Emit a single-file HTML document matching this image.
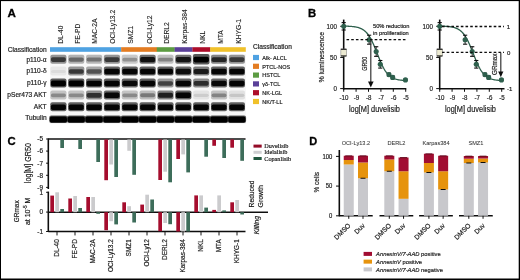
<!DOCTYPE html>
<html><head><meta charset="utf-8"><style>
html,body{margin:0;padding:0;background:#fff;}
body{width:520px;height:280px;overflow:hidden;font-family:"Liberation Sans", sans-serif;}
svg{display:block;}
</style></head><body>
<svg width="520" height="280" viewBox="0 0 520 280">
<defs>
<filter id="bl" x="-10%" y="-30%" width="120%" height="160%"><feGaussianBlur stdDeviation="0.6"/></filter>
<filter id="soft" x="0" y="0" width="100%" height="100%"><feGaussianBlur stdDeviation="0.35"/></filter>
</defs>
<rect x="0" y="0" width="520" height="280" fill="#fff"/>
<g filter="url(#soft)">
<text x="7.60" y="17.40" font-size="11.6" text-anchor="start" font-weight="bold" font-style="normal" fill="#000" font-family="'Liberation Sans', sans-serif" stroke="#000" stroke-width="0.30">A</text>
<text x="62.90" y="43.80" font-size="6.7" text-anchor="start" font-weight="normal" font-style="normal" fill="#1a1a1a" font-family="'Liberation Sans', sans-serif" stroke="#1a1a1a" stroke-width="0.10" transform="rotate(-90 62.90 43.80)">DL-40</text>
<text x="80.20" y="43.80" font-size="6.7" text-anchor="start" font-weight="normal" font-style="normal" fill="#1a1a1a" font-family="'Liberation Sans', sans-serif" stroke="#1a1a1a" stroke-width="0.10" transform="rotate(-90 80.20 43.80)">FE-PD</text>
<text x="97.50" y="43.80" font-size="6.7" text-anchor="start" font-weight="normal" font-style="normal" fill="#1a1a1a" font-family="'Liberation Sans', sans-serif" stroke="#1a1a1a" stroke-width="0.10" transform="rotate(-90 97.50 43.80)">MAC-2A</text>
<text x="114.80" y="43.80" font-size="6.7" text-anchor="start" font-weight="normal" font-style="normal" fill="#1a1a1a" font-family="'Liberation Sans', sans-serif" stroke="#1a1a1a" stroke-width="0.10" transform="rotate(-90 114.80 43.80)">OCI-Ly13.2</text>
<text x="133.10" y="43.80" font-size="6.7" text-anchor="start" font-weight="normal" font-style="normal" fill="#1a1a1a" font-family="'Liberation Sans', sans-serif" stroke="#1a1a1a" stroke-width="0.10" transform="rotate(-90 133.10 43.80)">SMZ1</text>
<text x="152.40" y="43.80" font-size="6.7" text-anchor="start" font-weight="normal" font-style="normal" fill="#1a1a1a" font-family="'Liberation Sans', sans-serif" stroke="#1a1a1a" stroke-width="0.10" transform="rotate(-90 152.40 43.80)">OCI-Ly12</text>
<text x="169.30" y="43.80" font-size="6.7" text-anchor="start" font-weight="normal" font-style="normal" fill="#1a1a1a" font-family="'Liberation Sans', sans-serif" stroke="#1a1a1a" stroke-width="0.10" transform="rotate(-90 169.30 43.80)">DERL2</text>
<text x="186.90" y="43.80" font-size="6.7" text-anchor="start" font-weight="normal" font-style="normal" fill="#1a1a1a" font-family="'Liberation Sans', sans-serif" stroke="#1a1a1a" stroke-width="0.10" transform="rotate(-90 186.90 43.80)">Karpas-384</text>
<text x="205.30" y="43.80" font-size="6.7" text-anchor="start" font-weight="normal" font-style="normal" fill="#1a1a1a" font-family="'Liberation Sans', sans-serif" stroke="#1a1a1a" stroke-width="0.10" transform="rotate(-90 205.30 43.80)">NKL</text>
<text x="223.50" y="43.80" font-size="6.7" text-anchor="start" font-weight="normal" font-style="normal" fill="#1a1a1a" font-family="'Liberation Sans', sans-serif" stroke="#1a1a1a" stroke-width="0.10" transform="rotate(-90 223.50 43.80)">MTA</text>
<text x="241.20" y="43.80" font-size="6.7" text-anchor="start" font-weight="normal" font-style="normal" fill="#1a1a1a" font-family="'Liberation Sans', sans-serif" stroke="#1a1a1a" stroke-width="0.10" transform="rotate(-90 241.20 43.80)">KHYG-1</text>
<rect x="50.00" y="47.20" width="71.40" height="4.60" fill="#4fa2e2"/>
<rect x="121.20" y="47.20" width="35.80" height="4.60" fill="#e37c22"/>
<rect x="156.80" y="47.20" width="18.00" height="4.60" fill="#5c9c42"/>
<rect x="174.60" y="47.20" width="18.00" height="4.60" fill="#5a3f98"/>
<rect x="192.40" y="47.20" width="18.00" height="4.60" fill="#ad0f2c"/>
<rect x="210.20" y="47.20" width="35.60" height="4.60" fill="#f0c12c"/>
<text x="46.60" y="51.70" font-size="6.6" text-anchor="end" font-weight="normal" font-style="normal" fill="#1a1a1a" font-family="'Liberation Sans', sans-serif" stroke="#1a1a1a" stroke-width="0.18">Classification</text>
<text x="46.60" y="61.50" font-size="6.6" text-anchor="end" font-weight="normal" font-style="normal" fill="#1a1a1a" font-family="'Liberation Sans', sans-serif" stroke="#1a1a1a" stroke-width="0.18">p110-&#945;</text>
<text x="46.60" y="73.40" font-size="6.6" text-anchor="end" font-weight="normal" font-style="normal" fill="#1a1a1a" font-family="'Liberation Sans', sans-serif" stroke="#1a1a1a" stroke-width="0.18">p110-&#948;</text>
<text x="46.60" y="85.30" font-size="6.6" text-anchor="end" font-weight="normal" font-style="normal" fill="#1a1a1a" font-family="'Liberation Sans', sans-serif" stroke="#1a1a1a" stroke-width="0.18">p110-&#947;</text>
<text x="46.60" y="97.10" font-size="6.6" text-anchor="end" font-weight="normal" font-style="normal" fill="#1a1a1a" font-family="'Liberation Sans', sans-serif" stroke="#1a1a1a" stroke-width="0.18">pSer473 AKT</text>
<text x="46.60" y="108.60" font-size="6.6" text-anchor="end" font-weight="normal" font-style="normal" fill="#1a1a1a" font-family="'Liberation Sans', sans-serif" stroke="#1a1a1a" stroke-width="0.18">AKT</text>
<text x="46.60" y="120.40" font-size="6.6" text-anchor="end" font-weight="normal" font-style="normal" fill="#1a1a1a" font-family="'Liberation Sans', sans-serif" stroke="#1a1a1a" stroke-width="0.18">Tubulin</text>
<rect x="50" y="54" width="196" height="70" fill="#000" fill-opacity="0.03" filter="url(#bl)"/>
<g filter="url(#bl)">
<rect x="50.30" y="54.70" width="16.20" height="9.00" rx="2.0" fill="#000" fill-opacity="0.40"/>
<rect x="50.90" y="57.29" width="15.00" height="4.61" rx="1.8" fill="#000" fill-opacity="0.62"/>
<rect x="68.15" y="54.70" width="16.20" height="9.00" rx="2.0" fill="#000" fill-opacity="0.28"/>
<rect x="68.75" y="57.55" width="15.00" height="4.09" rx="1.8" fill="#000" fill-opacity="0.42"/>
<rect x="86.00" y="54.70" width="16.20" height="9.00" rx="2.0" fill="#000" fill-opacity="0.26"/>
<rect x="86.60" y="57.61" width="15.00" height="3.99" rx="1.8" fill="#000" fill-opacity="0.38"/>
<rect x="103.85" y="54.70" width="16.20" height="9.00" rx="2.0" fill="#000" fill-opacity="0.40"/>
<rect x="104.45" y="57.29" width="15.00" height="4.61" rx="1.8" fill="#000" fill-opacity="0.62"/>
<rect x="121.70" y="54.70" width="16.20" height="9.00" rx="2.0" fill="#000" fill-opacity="0.19"/>
<rect x="122.30" y="57.74" width="15.00" height="3.73" rx="1.8" fill="#000" fill-opacity="0.28"/>
<rect x="139.55" y="54.70" width="16.20" height="9.00" rx="2.0" fill="#000" fill-opacity="0.55"/>
<rect x="140.15" y="57.00" width="15.00" height="5.21" rx="1.8" fill="#000" fill-opacity="0.85"/>
<rect x="157.40" y="54.70" width="16.20" height="9.00" rx="2.0" fill="#000" fill-opacity="0.22"/>
<rect x="158.00" y="57.68" width="15.00" height="3.83" rx="1.8" fill="#000" fill-opacity="0.32"/>
<rect x="175.25" y="54.70" width="16.20" height="9.00" rx="2.0" fill="#000" fill-opacity="0.53"/>
<rect x="175.85" y="57.03" width="15.00" height="5.13" rx="1.8" fill="#000" fill-opacity="0.82"/>
<rect x="192.90" y="53.90" width="16.60" height="10.60" rx="2.0" fill="#000" fill-opacity="0.64"/>
<rect x="193.50" y="56.80" width="15.40" height="5.60" rx="1.8" fill="#000" fill-opacity="1.00"/>
<rect x="210.95" y="54.70" width="16.20" height="9.00" rx="2.0" fill="#000" fill-opacity="0.47"/>
<rect x="211.55" y="57.16" width="15.00" height="4.87" rx="1.8" fill="#000" fill-opacity="0.72"/>
<rect x="228.80" y="54.70" width="16.20" height="9.00" rx="2.0" fill="#000" fill-opacity="0.40"/>
<rect x="229.40" y="57.29" width="15.00" height="4.61" rx="1.8" fill="#000" fill-opacity="0.62"/>
<rect x="50.30" y="66.60" width="16.20" height="9.00" rx="2.0" fill="#000" fill-opacity="0.06"/>
<rect x="50.90" y="69.92" width="15.00" height="3.16" rx="1.8" fill="#000" fill-opacity="0.06"/>
<rect x="68.15" y="66.60" width="16.20" height="9.00" rx="2.0" fill="#000" fill-opacity="0.40"/>
<rect x="68.75" y="69.19" width="15.00" height="4.61" rx="1.8" fill="#000" fill-opacity="0.62"/>
<rect x="86.00" y="66.60" width="16.20" height="9.00" rx="2.0" fill="#000" fill-opacity="0.33"/>
<rect x="86.60" y="69.35" width="15.00" height="4.30" rx="1.8" fill="#000" fill-opacity="0.50"/>
<rect x="103.85" y="66.60" width="16.20" height="9.00" rx="2.0" fill="#000" fill-opacity="0.61"/>
<rect x="104.45" y="68.77" width="15.00" height="5.47" rx="1.8" fill="#000" fill-opacity="0.95"/>
<rect x="121.70" y="66.60" width="16.20" height="9.00" rx="2.0" fill="#000" fill-opacity="0.61"/>
<rect x="122.30" y="68.77" width="15.00" height="5.47" rx="1.8" fill="#000" fill-opacity="0.95"/>
<rect x="139.55" y="66.60" width="16.20" height="9.00" rx="2.0" fill="#000" fill-opacity="0.61"/>
<rect x="140.15" y="68.77" width="15.00" height="5.47" rx="1.8" fill="#000" fill-opacity="0.95"/>
<rect x="157.40" y="66.60" width="16.20" height="9.00" rx="2.0" fill="#000" fill-opacity="0.61"/>
<rect x="158.00" y="68.77" width="15.00" height="5.47" rx="1.8" fill="#000" fill-opacity="0.95"/>
<rect x="175.25" y="66.60" width="16.20" height="9.00" rx="2.0" fill="#000" fill-opacity="0.57"/>
<rect x="175.85" y="68.86" width="15.00" height="5.29" rx="1.8" fill="#000" fill-opacity="0.88"/>
<rect x="193.10" y="66.60" width="16.20" height="9.00" rx="2.0" fill="#000" fill-opacity="0.50"/>
<rect x="193.70" y="68.99" width="15.00" height="5.03" rx="1.8" fill="#000" fill-opacity="0.78"/>
<rect x="210.95" y="66.60" width="16.20" height="9.00" rx="2.0" fill="#000" fill-opacity="0.61"/>
<rect x="211.55" y="68.77" width="15.00" height="5.47" rx="1.8" fill="#000" fill-opacity="0.95"/>
<rect x="228.80" y="66.60" width="16.20" height="9.00" rx="2.0" fill="#000" fill-opacity="0.61"/>
<rect x="229.40" y="68.77" width="15.00" height="5.47" rx="1.8" fill="#000" fill-opacity="0.95"/>
<rect x="50.30" y="78.50" width="16.20" height="9.00" rx="2.0" fill="#000" fill-opacity="0.64"/>
<rect x="50.90" y="80.60" width="15.00" height="5.60" rx="1.8" fill="#000" fill-opacity="1.00"/>
<rect x="68.15" y="78.50" width="16.20" height="9.00" rx="2.0" fill="#000" fill-opacity="0.64"/>
<rect x="68.75" y="80.60" width="15.00" height="5.60" rx="1.8" fill="#000" fill-opacity="1.00"/>
<rect x="86.00" y="78.50" width="16.20" height="9.00" rx="2.0" fill="#000" fill-opacity="0.62"/>
<rect x="86.60" y="80.64" width="15.00" height="5.52" rx="1.8" fill="#000" fill-opacity="0.97"/>
<rect x="103.85" y="78.50" width="16.20" height="9.00" rx="2.0" fill="#000" fill-opacity="0.62"/>
<rect x="104.45" y="80.65" width="15.00" height="5.50" rx="1.8" fill="#000" fill-opacity="0.96"/>
<rect x="121.70" y="78.50" width="16.20" height="9.00" rx="2.0" fill="#000" fill-opacity="0.59"/>
<rect x="122.30" y="80.70" width="15.00" height="5.39" rx="1.8" fill="#000" fill-opacity="0.92"/>
<rect x="139.55" y="78.50" width="16.20" height="9.00" rx="2.0" fill="#000" fill-opacity="0.62"/>
<rect x="140.15" y="80.65" width="15.00" height="5.50" rx="1.8" fill="#000" fill-opacity="0.96"/>
<rect x="157.40" y="78.50" width="16.20" height="9.00" rx="2.0" fill="#000" fill-opacity="0.38"/>
<rect x="158.00" y="81.15" width="15.00" height="4.51" rx="1.8" fill="#000" fill-opacity="0.58"/>
<rect x="175.25" y="78.50" width="16.20" height="9.00" rx="2.0" fill="#000" fill-opacity="0.61"/>
<rect x="175.85" y="80.67" width="15.00" height="5.47" rx="1.8" fill="#000" fill-opacity="0.95"/>
<rect x="193.10" y="78.50" width="16.20" height="9.00" rx="2.0" fill="#000" fill-opacity="0.44"/>
<rect x="193.70" y="81.02" width="15.00" height="4.77" rx="1.8" fill="#000" fill-opacity="0.68"/>
<rect x="210.95" y="78.50" width="16.20" height="9.00" rx="2.0" fill="#000" fill-opacity="0.59"/>
<rect x="211.55" y="80.70" width="15.00" height="5.39" rx="1.8" fill="#000" fill-opacity="0.92"/>
<rect x="228.80" y="78.50" width="16.20" height="9.00" rx="2.0" fill="#000" fill-opacity="0.62"/>
<rect x="229.40" y="80.65" width="15.00" height="5.50" rx="1.8" fill="#000" fill-opacity="0.96"/>
<rect x="50.30" y="90.40" width="16.20" height="9.00" rx="2.0" fill="#000" fill-opacity="0.21"/>
<rect x="50.90" y="93.41" width="15.00" height="3.78" rx="1.8" fill="#000" fill-opacity="0.30"/>
<rect x="68.15" y="90.40" width="16.20" height="9.00" rx="2.0" fill="#000" fill-opacity="0.21"/>
<rect x="68.75" y="93.41" width="15.00" height="3.78" rx="1.8" fill="#000" fill-opacity="0.30"/>
<rect x="86.00" y="90.40" width="16.20" height="9.00" rx="2.0" fill="#000" fill-opacity="0.43"/>
<rect x="86.60" y="92.94" width="15.00" height="4.72" rx="1.8" fill="#000" fill-opacity="0.66"/>
<rect x="103.85" y="90.40" width="16.20" height="9.00" rx="2.0" fill="#000" fill-opacity="0.59"/>
<rect x="104.45" y="92.60" width="15.00" height="5.39" rx="1.8" fill="#000" fill-opacity="0.92"/>
<rect x="121.70" y="90.40" width="16.20" height="9.00" rx="2.0" fill="#000" fill-opacity="0.21"/>
<rect x="122.30" y="93.41" width="15.00" height="3.78" rx="1.8" fill="#000" fill-opacity="0.30"/>
<rect x="139.55" y="90.40" width="16.20" height="9.00" rx="2.0" fill="#000" fill-opacity="0.24"/>
<rect x="140.15" y="93.33" width="15.00" height="3.94" rx="1.8" fill="#000" fill-opacity="0.36"/>
<rect x="157.40" y="90.40" width="16.20" height="9.00" rx="2.0" fill="#000" fill-opacity="0.49"/>
<rect x="158.00" y="92.81" width="15.00" height="4.98" rx="1.8" fill="#000" fill-opacity="0.76"/>
<rect x="175.25" y="90.40" width="16.20" height="9.00" rx="2.0" fill="#000" fill-opacity="0.62"/>
<rect x="175.85" y="92.55" width="15.00" height="5.50" rx="1.8" fill="#000" fill-opacity="0.96"/>
<rect x="193.10" y="90.40" width="16.20" height="9.00" rx="2.0" fill="#000" fill-opacity="0.08"/>
<rect x="193.70" y="93.67" width="15.00" height="3.26" rx="1.8" fill="#000" fill-opacity="0.10"/>
<rect x="210.95" y="90.40" width="16.20" height="9.00" rx="2.0" fill="#000" fill-opacity="0.22"/>
<rect x="211.55" y="93.38" width="15.00" height="3.83" rx="1.8" fill="#000" fill-opacity="0.32"/>
<rect x="228.80" y="90.40" width="16.20" height="9.00" rx="2.0" fill="#000" fill-opacity="0.09"/>
<rect x="229.40" y="93.64" width="15.00" height="3.31" rx="1.8" fill="#000" fill-opacity="0.12"/>
<rect x="50.30" y="102.30" width="16.20" height="9.00" rx="2.0" fill="#000" fill-opacity="0.62"/>
<rect x="50.90" y="104.45" width="15.00" height="5.50" rx="1.8" fill="#000" fill-opacity="0.96"/>
<rect x="68.15" y="102.30" width="16.20" height="9.00" rx="2.0" fill="#000" fill-opacity="0.62"/>
<rect x="68.75" y="104.45" width="15.00" height="5.50" rx="1.8" fill="#000" fill-opacity="0.96"/>
<rect x="86.00" y="102.30" width="16.20" height="9.00" rx="2.0" fill="#000" fill-opacity="0.62"/>
<rect x="86.60" y="104.45" width="15.00" height="5.50" rx="1.8" fill="#000" fill-opacity="0.96"/>
<rect x="103.85" y="102.30" width="16.20" height="9.00" rx="2.0" fill="#000" fill-opacity="0.62"/>
<rect x="104.45" y="104.45" width="15.00" height="5.50" rx="1.8" fill="#000" fill-opacity="0.96"/>
<rect x="121.70" y="102.30" width="16.20" height="9.00" rx="2.0" fill="#000" fill-opacity="0.62"/>
<rect x="122.30" y="104.45" width="15.00" height="5.50" rx="1.8" fill="#000" fill-opacity="0.96"/>
<rect x="139.55" y="102.30" width="16.20" height="9.00" rx="2.0" fill="#000" fill-opacity="0.62"/>
<rect x="140.15" y="104.45" width="15.00" height="5.50" rx="1.8" fill="#000" fill-opacity="0.96"/>
<rect x="157.40" y="102.30" width="16.20" height="9.00" rx="2.0" fill="#000" fill-opacity="0.62"/>
<rect x="158.00" y="104.45" width="15.00" height="5.50" rx="1.8" fill="#000" fill-opacity="0.96"/>
<rect x="175.25" y="102.30" width="16.20" height="9.00" rx="2.0" fill="#000" fill-opacity="0.62"/>
<rect x="175.85" y="104.45" width="15.00" height="5.50" rx="1.8" fill="#000" fill-opacity="0.96"/>
<rect x="193.10" y="102.30" width="16.20" height="9.00" rx="2.0" fill="#000" fill-opacity="0.62"/>
<rect x="193.70" y="104.45" width="15.00" height="5.50" rx="1.8" fill="#000" fill-opacity="0.96"/>
<rect x="210.95" y="102.30" width="16.20" height="9.00" rx="2.0" fill="#000" fill-opacity="0.62"/>
<rect x="211.55" y="104.45" width="15.00" height="5.50" rx="1.8" fill="#000" fill-opacity="0.96"/>
<rect x="228.80" y="102.30" width="16.20" height="9.00" rx="2.0" fill="#000" fill-opacity="0.62"/>
<rect x="229.40" y="104.45" width="15.00" height="5.50" rx="1.8" fill="#000" fill-opacity="0.96"/>
<rect x="49.20" y="115.50" width="18.40" height="7.40" rx="2.0" fill="#000" fill-opacity="0.64"/>
<rect x="49.80" y="116.60" width="17.20" height="6.00" rx="1.8" fill="#000" fill-opacity="1.00"/>
<rect x="67.05" y="115.50" width="18.40" height="7.40" rx="2.0" fill="#000" fill-opacity="0.64"/>
<rect x="67.65" y="116.60" width="17.20" height="6.00" rx="1.8" fill="#000" fill-opacity="1.00"/>
<rect x="84.90" y="115.50" width="18.40" height="7.40" rx="2.0" fill="#000" fill-opacity="0.64"/>
<rect x="85.50" y="116.60" width="17.20" height="6.00" rx="1.8" fill="#000" fill-opacity="1.00"/>
<rect x="102.75" y="115.50" width="18.40" height="7.40" rx="2.0" fill="#000" fill-opacity="0.64"/>
<rect x="103.35" y="116.60" width="17.20" height="6.00" rx="1.8" fill="#000" fill-opacity="1.00"/>
<rect x="120.60" y="115.50" width="18.40" height="7.40" rx="2.0" fill="#000" fill-opacity="0.64"/>
<rect x="121.20" y="116.60" width="17.20" height="6.00" rx="1.8" fill="#000" fill-opacity="1.00"/>
<rect x="138.45" y="115.50" width="18.40" height="7.40" rx="2.0" fill="#000" fill-opacity="0.64"/>
<rect x="139.05" y="116.60" width="17.20" height="6.00" rx="1.8" fill="#000" fill-opacity="1.00"/>
<rect x="156.30" y="115.50" width="18.40" height="7.40" rx="2.0" fill="#000" fill-opacity="0.64"/>
<rect x="156.90" y="116.60" width="17.20" height="6.00" rx="1.8" fill="#000" fill-opacity="1.00"/>
<rect x="174.15" y="115.50" width="18.40" height="7.40" rx="2.0" fill="#000" fill-opacity="0.64"/>
<rect x="174.75" y="116.60" width="17.20" height="6.00" rx="1.8" fill="#000" fill-opacity="1.00"/>
<rect x="192.00" y="115.50" width="18.40" height="7.40" rx="2.0" fill="#000" fill-opacity="0.64"/>
<rect x="192.60" y="116.60" width="17.20" height="6.00" rx="1.8" fill="#000" fill-opacity="1.00"/>
<rect x="209.85" y="115.50" width="18.40" height="7.40" rx="2.0" fill="#000" fill-opacity="0.64"/>
<rect x="210.45" y="116.60" width="17.20" height="6.00" rx="1.8" fill="#000" fill-opacity="1.00"/>
<rect x="227.70" y="115.50" width="18.40" height="7.40" rx="2.0" fill="#000" fill-opacity="0.64"/>
<rect x="228.30" y="116.60" width="17.20" height="6.00" rx="1.8" fill="#000" fill-opacity="1.00"/>
</g>
<text x="253.00" y="48.70" font-size="6.6" text-anchor="start" font-weight="normal" font-style="normal" fill="#1a1a1a" font-family="'Liberation Sans', sans-serif" stroke="#1a1a1a" stroke-width="0.18">Classification</text>
<rect x="253.00" y="54.90" width="6.00" height="5.20" fill="#4fa2e2"/>
<text x="262.30" y="59.70" font-size="5.5" text-anchor="start" font-weight="normal" font-style="normal" fill="#1a1a1a" font-family="'Liberation Sans', sans-serif" stroke="#1a1a1a" stroke-width="0.18">Alk- ALCL</text>
<rect x="253.00" y="63.70" width="6.00" height="5.20" fill="#e37c22"/>
<text x="262.30" y="68.50" font-size="5.5" text-anchor="start" font-weight="normal" font-style="normal" fill="#1a1a1a" font-family="'Liberation Sans', sans-serif" stroke="#1a1a1a" stroke-width="0.18">PTCL-NOS</text>
<rect x="253.00" y="72.50" width="6.00" height="5.20" fill="#5c9c42"/>
<text x="262.30" y="77.30" font-size="5.5" text-anchor="start" font-weight="normal" font-style="normal" fill="#1a1a1a" font-family="'Liberation Sans', sans-serif" stroke="#1a1a1a" stroke-width="0.18">HSTCL</text>
<rect x="253.00" y="81.30" width="6.00" height="5.20" fill="#5a3f98"/>
<text x="262.30" y="86.10" font-size="5.5" text-anchor="start" font-weight="normal" font-style="normal" fill="#1a1a1a" font-family="'Liberation Sans', sans-serif" stroke="#1a1a1a" stroke-width="0.18">&#947;&#948;-TCL</text>
<rect x="253.00" y="90.10" width="6.00" height="5.20" fill="#ad0f2c"/>
<text x="262.30" y="94.90" font-size="5.5" text-anchor="start" font-weight="normal" font-style="normal" fill="#1a1a1a" font-family="'Liberation Sans', sans-serif" stroke="#1a1a1a" stroke-width="0.18">NK-LGL</text>
<rect x="253.00" y="98.90" width="6.00" height="5.20" fill="#f0c12c"/>
<text x="262.30" y="103.70" font-size="5.5" text-anchor="start" font-weight="normal" font-style="normal" fill="#1a1a1a" font-family="'Liberation Sans', sans-serif" stroke="#1a1a1a" stroke-width="0.18">NK/T-LL</text>
<text x="308.10" y="17.40" font-size="11.3" text-anchor="start" font-weight="bold" font-style="normal" fill="#000" font-family="'Liberation Sans', sans-serif" stroke="#000" stroke-width="0.30">B</text>
<line x1="343.70" y1="19.60" x2="343.70" y2="89.60" stroke="#111" stroke-width="1.6"/>
<line x1="343.10" y1="88.80" x2="406.30" y2="88.80" stroke="#111" stroke-width="1.6"/>
<line x1="343.70" y1="88.80" x2="343.70" y2="91.80" stroke="#111" stroke-width="1.0"/>
<text x="0.00" y="0.00" font-size="6.7" text-anchor="middle" font-weight="normal" font-style="normal" fill="#1a1a1a" font-family="'Liberation Sans', sans-serif" stroke="#1a1a1a" stroke-width="0.18" transform="translate(344.00 100.10) scale(0.920 1)">-10</text>
<line x1="356.10" y1="88.80" x2="356.10" y2="91.80" stroke="#111" stroke-width="1.0"/>
<text x="0.00" y="0.00" font-size="6.7" text-anchor="middle" font-weight="normal" font-style="normal" fill="#1a1a1a" font-family="'Liberation Sans', sans-serif" stroke="#1a1a1a" stroke-width="0.18" transform="translate(356.40 100.10) scale(0.920 1)">-9</text>
<line x1="368.50" y1="88.80" x2="368.50" y2="91.80" stroke="#111" stroke-width="1.0"/>
<text x="0.00" y="0.00" font-size="6.7" text-anchor="middle" font-weight="normal" font-style="normal" fill="#1a1a1a" font-family="'Liberation Sans', sans-serif" stroke="#1a1a1a" stroke-width="0.18" transform="translate(368.80 100.10) scale(0.920 1)">-8</text>
<line x1="380.90" y1="88.80" x2="380.90" y2="91.80" stroke="#111" stroke-width="1.0"/>
<text x="0.00" y="0.00" font-size="6.7" text-anchor="middle" font-weight="normal" font-style="normal" fill="#1a1a1a" font-family="'Liberation Sans', sans-serif" stroke="#1a1a1a" stroke-width="0.18" transform="translate(381.20 100.10) scale(0.920 1)">-7</text>
<line x1="393.30" y1="88.80" x2="393.30" y2="91.80" stroke="#111" stroke-width="1.0"/>
<text x="0.00" y="0.00" font-size="6.7" text-anchor="middle" font-weight="normal" font-style="normal" fill="#1a1a1a" font-family="'Liberation Sans', sans-serif" stroke="#1a1a1a" stroke-width="0.18" transform="translate(393.60 100.10) scale(0.920 1)">-6</text>
<line x1="405.70" y1="88.80" x2="405.70" y2="91.80" stroke="#111" stroke-width="1.0"/>
<text x="0.00" y="0.00" font-size="6.7" text-anchor="middle" font-weight="normal" font-style="normal" fill="#1a1a1a" font-family="'Liberation Sans', sans-serif" stroke="#1a1a1a" stroke-width="0.18" transform="translate(406.00 100.10) scale(0.920 1)">-5</text>
<line x1="340.20" y1="26.30" x2="343.70" y2="26.30" stroke="#111" stroke-width="1.0"/>
<text x="0.00" y="0.00" font-size="6.7" text-anchor="end" font-weight="normal" font-style="normal" fill="#1a1a1a" font-family="'Liberation Sans', sans-serif" stroke="#1a1a1a" stroke-width="0.18" transform="translate(337.00 28.70) scale(0.930 1)">100</text>
<line x1="340.20" y1="57.45" x2="343.70" y2="57.45" stroke="#111" stroke-width="1.0"/>
<text x="0.00" y="0.00" font-size="6.7" text-anchor="end" font-weight="normal" font-style="normal" fill="#1a1a1a" font-family="'Liberation Sans', sans-serif" stroke="#1a1a1a" stroke-width="0.18" transform="translate(337.00 59.85) scale(0.930 1)">50</text>
<line x1="340.20" y1="88.60" x2="343.70" y2="88.60" stroke="#111" stroke-width="1.0"/>
<text x="0.00" y="0.00" font-size="6.7" text-anchor="end" font-weight="normal" font-style="normal" fill="#1a1a1a" font-family="'Liberation Sans', sans-serif" stroke="#1a1a1a" stroke-width="0.18" transform="translate(337.00 91.00) scale(0.930 1)">0</text>
<text x="0.00" y="0.00" font-size="8.3" text-anchor="middle" font-weight="normal" font-style="normal" fill="#1a1a1a" font-family="'Liberation Sans', sans-serif" stroke="#1a1a1a" stroke-width="0.18" transform="translate(374.40 111.80) scale(0.893 1)">log[M] duvelisib</text>
<polyline points="343.70,26.10 344.32,26.11 344.94,26.13 345.56,26.14 346.18,26.16 346.80,26.18 347.42,26.21 348.04,26.23 348.66,26.26 349.28,26.30 349.90,26.33 350.52,26.37 351.14,26.42 351.76,26.47 352.38,26.53 353.00,26.60 353.62,26.67 354.24,26.75 354.86,26.84 355.48,26.95 356.10,27.06 356.72,27.19 357.34,27.33 357.96,27.49 358.58,27.67 359.20,27.87 359.82,28.09 360.44,28.33 361.06,28.61 361.68,28.91 362.30,29.24 362.92,29.61 363.54,30.02 364.16,30.47 364.78,30.97 365.40,31.52 366.02,32.12 366.64,32.77 367.26,33.49 367.88,34.27 368.50,35.11 369.12,36.02 369.74,36.99 370.36,38.04 370.98,39.16 371.60,40.35 372.22,41.60 372.84,42.92 373.46,44.29 374.08,45.72 374.70,47.20 375.32,48.71 375.94,50.26 376.56,51.82 377.18,53.40 377.80,54.98 378.42,56.54 379.04,58.09 379.66,59.60 380.28,61.08 380.90,62.51 381.52,63.88 382.14,65.20 382.76,66.45 383.38,67.64 384.00,68.76 384.62,69.81 385.24,70.78 385.86,71.69 386.48,72.54 387.10,73.31 387.72,74.03 388.34,74.68 388.96,75.28 389.58,75.83 390.20,76.33 390.82,76.78 391.44,77.19 392.06,77.56 392.68,77.89 393.30,78.20 393.92,78.47 394.54,78.71 395.16,78.93 395.78,79.13 396.40,79.31 397.02,79.47 397.64,79.61 398.26,79.74 398.88,79.85 399.50,79.96 400.12,80.05 400.74,80.13 401.36,80.20 401.98,80.27 402.60,80.33 403.22,80.38 403.84,80.43 404.46,80.47 405.08,80.51 405.70,80.54" fill="none" stroke="#2f604d" stroke-width="1.3"/>
<line x1="343.70" y1="22.60" x2="343.70" y2="30.00" stroke="#111" stroke-width="0.9"/>
<line x1="341.60" y1="22.60" x2="345.80" y2="22.60" stroke="#111" stroke-width="1.1"/>
<line x1="341.60" y1="30.00" x2="345.80" y2="30.00" stroke="#111" stroke-width="1.1"/>
<circle cx="343.70" cy="26.30" r="2.55" fill="#2f604d"/>
<line x1="369.12" y1="35.19" x2="369.12" y2="44.19" stroke="#111" stroke-width="0.9"/>
<line x1="367.02" y1="35.19" x2="371.22" y2="35.19" stroke="#111" stroke-width="1.1"/>
<line x1="367.02" y1="44.19" x2="371.22" y2="44.19" stroke="#111" stroke-width="1.1"/>
<circle cx="369.12" cy="39.69" r="2.55" fill="#2f604d"/>
<line x1="376.19" y1="46.73" x2="376.19" y2="56.33" stroke="#111" stroke-width="0.9"/>
<line x1="374.09" y1="46.73" x2="378.29" y2="46.73" stroke="#111" stroke-width="1.1"/>
<line x1="374.09" y1="56.33" x2="378.29" y2="56.33" stroke="#111" stroke-width="1.1"/>
<circle cx="376.19" cy="51.53" r="2.55" fill="#2f604d"/>
<line x1="380.28" y1="60.50" x2="380.28" y2="68.10" stroke="#111" stroke-width="0.9"/>
<line x1="378.18" y1="60.50" x2="382.38" y2="60.50" stroke="#111" stroke-width="1.1"/>
<line x1="378.18" y1="68.10" x2="382.38" y2="68.10" stroke="#111" stroke-width="1.1"/>
<circle cx="380.28" cy="64.30" r="2.55" fill="#2f604d"/>
<line x1="388.96" y1="73.18" x2="388.96" y2="75.98" stroke="#111" stroke-width="0.9"/>
<line x1="386.86" y1="73.18" x2="391.06" y2="73.18" stroke="#111" stroke-width="1.1"/>
<line x1="386.86" y1="75.98" x2="391.06" y2="75.98" stroke="#111" stroke-width="1.1"/>
<circle cx="388.96" cy="74.58" r="2.55" fill="#2f604d"/>
<line x1="392.68" y1="75.99" x2="392.68" y2="78.79" stroke="#111" stroke-width="0.9"/>
<line x1="390.58" y1="75.99" x2="394.78" y2="75.99" stroke="#111" stroke-width="1.1"/>
<line x1="390.58" y1="78.79" x2="394.78" y2="78.79" stroke="#111" stroke-width="1.1"/>
<circle cx="392.68" cy="77.39" r="2.55" fill="#2f604d"/>
<line x1="405.45" y1="79.08" x2="405.45" y2="80.68" stroke="#111" stroke-width="0.9"/>
<line x1="403.35" y1="79.08" x2="407.55" y2="79.08" stroke="#111" stroke-width="1.1"/>
<line x1="403.35" y1="80.68" x2="407.55" y2="80.68" stroke="#111" stroke-width="1.1"/>
<circle cx="405.45" cy="79.88" r="2.55" fill="#2f604d"/>
<rect x="340.90" y="48.90" width="5.6" height="7.4" fill="#ecead2" stroke="#555" stroke-width="0.4"/>
<line x1="340.90" y1="49.30" x2="346.50" y2="49.30" stroke="#111" stroke-width="1.0"/>
<line x1="340.90" y1="55.90" x2="346.50" y2="55.90" stroke="#111" stroke-width="1.0"/>
<line x1="439.70" y1="19.60" x2="439.70" y2="89.60" stroke="#111" stroke-width="1.6"/>
<line x1="439.10" y1="88.80" x2="504.50" y2="88.80" stroke="#111" stroke-width="1.6"/>
<line x1="439.70" y1="88.80" x2="439.70" y2="91.80" stroke="#111" stroke-width="1.0"/>
<text x="0.00" y="0.00" font-size="6.7" text-anchor="middle" font-weight="normal" font-style="normal" fill="#1a1a1a" font-family="'Liberation Sans', sans-serif" stroke="#1a1a1a" stroke-width="0.18" transform="translate(440.00 100.10) scale(0.920 1)">-10</text>
<line x1="452.10" y1="88.80" x2="452.10" y2="91.80" stroke="#111" stroke-width="1.0"/>
<text x="0.00" y="0.00" font-size="6.7" text-anchor="middle" font-weight="normal" font-style="normal" fill="#1a1a1a" font-family="'Liberation Sans', sans-serif" stroke="#1a1a1a" stroke-width="0.18" transform="translate(452.40 100.10) scale(0.920 1)">-9</text>
<line x1="464.50" y1="88.80" x2="464.50" y2="91.80" stroke="#111" stroke-width="1.0"/>
<text x="0.00" y="0.00" font-size="6.7" text-anchor="middle" font-weight="normal" font-style="normal" fill="#1a1a1a" font-family="'Liberation Sans', sans-serif" stroke="#1a1a1a" stroke-width="0.18" transform="translate(464.80 100.10) scale(0.920 1)">-8</text>
<line x1="476.90" y1="88.80" x2="476.90" y2="91.80" stroke="#111" stroke-width="1.0"/>
<text x="0.00" y="0.00" font-size="6.7" text-anchor="middle" font-weight="normal" font-style="normal" fill="#1a1a1a" font-family="'Liberation Sans', sans-serif" stroke="#1a1a1a" stroke-width="0.18" transform="translate(477.20 100.10) scale(0.920 1)">-7</text>
<line x1="489.30" y1="88.80" x2="489.30" y2="91.80" stroke="#111" stroke-width="1.0"/>
<text x="0.00" y="0.00" font-size="6.7" text-anchor="middle" font-weight="normal" font-style="normal" fill="#1a1a1a" font-family="'Liberation Sans', sans-serif" stroke="#1a1a1a" stroke-width="0.18" transform="translate(489.60 100.10) scale(0.920 1)">-6</text>
<line x1="501.70" y1="88.80" x2="501.70" y2="91.80" stroke="#111" stroke-width="1.0"/>
<text x="0.00" y="0.00" font-size="6.7" text-anchor="middle" font-weight="normal" font-style="normal" fill="#1a1a1a" font-family="'Liberation Sans', sans-serif" stroke="#1a1a1a" stroke-width="0.18" transform="translate(502.00 100.10) scale(0.920 1)">-5</text>
<line x1="436.20" y1="26.30" x2="439.70" y2="26.30" stroke="#111" stroke-width="1.0"/>
<text x="0.00" y="0.00" font-size="6.7" text-anchor="end" font-weight="normal" font-style="normal" fill="#1a1a1a" font-family="'Liberation Sans', sans-serif" stroke="#1a1a1a" stroke-width="0.18" transform="translate(433.00 28.70) scale(0.930 1)">100</text>
<line x1="436.20" y1="57.45" x2="439.70" y2="57.45" stroke="#111" stroke-width="1.0"/>
<text x="0.00" y="0.00" font-size="6.7" text-anchor="end" font-weight="normal" font-style="normal" fill="#1a1a1a" font-family="'Liberation Sans', sans-serif" stroke="#1a1a1a" stroke-width="0.18" transform="translate(433.00 59.85) scale(0.930 1)">50</text>
<line x1="436.20" y1="88.60" x2="439.70" y2="88.60" stroke="#111" stroke-width="1.0"/>
<text x="0.00" y="0.00" font-size="6.7" text-anchor="end" font-weight="normal" font-style="normal" fill="#1a1a1a" font-family="'Liberation Sans', sans-serif" stroke="#1a1a1a" stroke-width="0.18" transform="translate(433.00 91.00) scale(0.930 1)">0</text>
<text x="0.00" y="0.00" font-size="8.3" text-anchor="middle" font-weight="normal" font-style="normal" fill="#1a1a1a" font-family="'Liberation Sans', sans-serif" stroke="#1a1a1a" stroke-width="0.18" transform="translate(470.40 111.80) scale(0.893 1)">log[M] duvelisib</text>
<polyline points="439.70,26.10 440.32,26.11 440.94,26.13 441.56,26.14 442.18,26.16 442.80,26.18 443.42,26.21 444.04,26.23 444.66,26.26 445.28,26.30 445.90,26.33 446.52,26.37 447.14,26.42 447.76,26.47 448.38,26.53 449.00,26.60 449.62,26.67 450.24,26.75 450.86,26.84 451.48,26.95 452.10,27.06 452.72,27.19 453.34,27.33 453.96,27.49 454.58,27.67 455.20,27.87 455.82,28.09 456.44,28.33 457.06,28.61 457.68,28.91 458.30,29.24 458.92,29.61 459.54,30.02 460.16,30.47 460.78,30.97 461.40,31.52 462.02,32.12 462.64,32.77 463.26,33.49 463.88,34.27 464.50,35.11 465.12,36.02 465.74,36.99 466.36,38.04 466.98,39.16 467.60,40.35 468.22,41.60 468.84,42.92 469.46,44.29 470.08,45.72 470.70,47.20 471.32,48.71 471.94,50.26 472.56,51.82 473.18,53.40 473.80,54.98 474.42,56.54 475.04,58.09 475.66,59.60 476.28,61.08 476.90,62.51 477.52,63.88 478.14,65.20 478.76,66.45 479.38,67.64 480.00,68.76 480.62,69.81 481.24,70.78 481.86,71.69 482.48,72.54 483.10,73.31 483.72,74.03 484.34,74.68 484.96,75.28 485.58,75.83 486.20,76.33 486.82,76.78 487.44,77.19 488.06,77.56 488.68,77.89 489.30,78.20 489.92,78.47 490.54,78.71 491.16,78.93 491.78,79.13 492.40,79.31 493.02,79.47 493.64,79.61 494.26,79.74 494.88,79.85 495.50,79.96 496.12,80.05 496.74,80.13 497.36,80.20 497.98,80.27 498.60,80.33 499.22,80.38 499.84,80.43 500.46,80.47 501.08,80.51 501.70,80.54" fill="none" stroke="#2f604d" stroke-width="1.3"/>
<line x1="439.70" y1="22.60" x2="439.70" y2="30.00" stroke="#111" stroke-width="0.9"/>
<line x1="437.60" y1="22.60" x2="441.80" y2="22.60" stroke="#111" stroke-width="1.1"/>
<line x1="437.60" y1="30.00" x2="441.80" y2="30.00" stroke="#111" stroke-width="1.1"/>
<circle cx="439.70" cy="26.30" r="2.55" fill="#2f604d"/>
<line x1="465.12" y1="35.19" x2="465.12" y2="44.19" stroke="#111" stroke-width="0.9"/>
<line x1="463.02" y1="35.19" x2="467.22" y2="35.19" stroke="#111" stroke-width="1.1"/>
<line x1="463.02" y1="44.19" x2="467.22" y2="44.19" stroke="#111" stroke-width="1.1"/>
<circle cx="465.12" cy="39.69" r="2.55" fill="#2f604d"/>
<line x1="472.19" y1="46.73" x2="472.19" y2="56.33" stroke="#111" stroke-width="0.9"/>
<line x1="470.09" y1="46.73" x2="474.29" y2="46.73" stroke="#111" stroke-width="1.1"/>
<line x1="470.09" y1="56.33" x2="474.29" y2="56.33" stroke="#111" stroke-width="1.1"/>
<circle cx="472.19" cy="51.53" r="2.55" fill="#2f604d"/>
<line x1="476.28" y1="60.50" x2="476.28" y2="68.10" stroke="#111" stroke-width="0.9"/>
<line x1="474.18" y1="60.50" x2="478.38" y2="60.50" stroke="#111" stroke-width="1.1"/>
<line x1="474.18" y1="68.10" x2="478.38" y2="68.10" stroke="#111" stroke-width="1.1"/>
<circle cx="476.28" cy="64.30" r="2.55" fill="#2f604d"/>
<line x1="484.96" y1="73.18" x2="484.96" y2="75.98" stroke="#111" stroke-width="0.9"/>
<line x1="482.86" y1="73.18" x2="487.06" y2="73.18" stroke="#111" stroke-width="1.1"/>
<line x1="482.86" y1="75.98" x2="487.06" y2="75.98" stroke="#111" stroke-width="1.1"/>
<circle cx="484.96" cy="74.58" r="2.55" fill="#2f604d"/>
<line x1="488.68" y1="75.99" x2="488.68" y2="78.79" stroke="#111" stroke-width="0.9"/>
<line x1="486.58" y1="75.99" x2="490.78" y2="75.99" stroke="#111" stroke-width="1.1"/>
<line x1="486.58" y1="78.79" x2="490.78" y2="78.79" stroke="#111" stroke-width="1.1"/>
<circle cx="488.68" cy="77.39" r="2.55" fill="#2f604d"/>
<line x1="501.45" y1="79.08" x2="501.45" y2="80.68" stroke="#111" stroke-width="0.9"/>
<line x1="499.35" y1="79.08" x2="503.55" y2="79.08" stroke="#111" stroke-width="1.1"/>
<line x1="499.35" y1="80.68" x2="503.55" y2="80.68" stroke="#111" stroke-width="1.1"/>
<circle cx="501.45" cy="79.88" r="2.55" fill="#2f604d"/>
<rect x="436.90" y="48.90" width="5.6" height="7.4" fill="#ecead2" stroke="#555" stroke-width="0.4"/>
<line x1="436.90" y1="49.30" x2="442.50" y2="49.30" stroke="#111" stroke-width="1.0"/>
<line x1="436.90" y1="55.90" x2="442.50" y2="55.90" stroke="#111" stroke-width="1.0"/>
<text x="0.00" y="0.00" font-size="8.0" text-anchor="middle" font-weight="normal" font-style="normal" fill="#1a1a1a" font-family="'Liberation Sans', sans-serif" stroke="#1a1a1a" stroke-width="0.18" transform="translate(324.00 57.30) rotate(-90) scale(0.870 1)">% luminescence</text>
<line x1="346.5" y1="39.7" x2="406" y2="39.7" stroke="#111" stroke-width="1.3" stroke-dasharray="2.6 2.1"/>
<text x="373.00" y="28.00" font-size="5.7" text-anchor="start" font-weight="normal" font-style="normal" fill="#1a1a1a" font-family="'Liberation Sans', sans-serif" stroke="#1a1a1a" stroke-width="0.18">50% reduction</text>
<text x="373.00" y="34.60" font-size="5.7" text-anchor="start" font-weight="normal" font-style="normal" fill="#1a1a1a" font-family="'Liberation Sans', sans-serif" stroke="#1a1a1a" stroke-width="0.18">in proliferation</text>
<line x1="370.80" y1="40.00" x2="370.80" y2="83.50" stroke="#333" stroke-width="1.2"/>
<path d="M368.0,81.6 L373.6,81.6 L370.8,87.4 Z" fill="#111"/>
<text x="0.00" y="0.00" font-size="7.0" text-anchor="middle" font-weight="normal" font-style="normal" fill="#1a1a1a" font-family="'Liberation Sans', sans-serif" stroke="#1a1a1a" stroke-width="0.18" transform="translate(367.20 63.80) rotate(-90) scale(0.750 1)">GR50</text>
<line x1="442" y1="26.5" x2="504" y2="26.5" stroke="#111" stroke-width="1.3" stroke-dasharray="2.6 2.1"/>
<line x1="442" y1="52.4" x2="504" y2="52.4" stroke="#111" stroke-width="1.3" stroke-dasharray="2.6 2.1"/>
<text x="508.40" y="28.70" font-size="6.0" text-anchor="middle" font-weight="normal" font-style="normal" fill="#1a1a1a" font-family="'Liberation Sans', sans-serif" stroke="#1a1a1a" stroke-width="0.18">1</text>
<text x="508.60" y="54.50" font-size="6.0" text-anchor="middle" font-weight="normal" font-style="normal" fill="#1a1a1a" font-family="'Liberation Sans', sans-serif" stroke="#1a1a1a" stroke-width="0.18">0</text>
<text x="509.60" y="91.00" font-size="6.0" text-anchor="middle" font-weight="normal" font-style="normal" fill="#1a1a1a" font-family="'Liberation Sans', sans-serif" stroke="#1a1a1a" stroke-width="0.18">-1</text>
<line x1="500.80" y1="52.40" x2="500.80" y2="73.00" stroke="#333" stroke-width="1.2"/>
<path d="M498.2,71.4 L503.4,71.4 L500.8,77.3 Z" fill="#111"/>
<text x="0.00" y="0.00" font-size="7.0" text-anchor="middle" font-weight="normal" font-style="normal" fill="#1a1a1a" font-family="'Liberation Sans', sans-serif" stroke="#1a1a1a" stroke-width="0.18" transform="translate(497.10 64.30) rotate(-90) scale(0.900 1)">GRmax</text>
<text x="7.60" y="144.60" font-size="11.3" text-anchor="start" font-weight="bold" font-style="normal" fill="#000" font-family="'Liberation Sans', sans-serif" stroke="#000" stroke-width="0.30">C</text>
<line x1="48.30" y1="138.40" x2="48.30" y2="189.00" stroke="#111" stroke-width="1.6"/>
<line x1="48.30" y1="139.00" x2="245.50" y2="139.00" stroke="#111" stroke-width="1.6"/>
<line x1="46.10" y1="139.00" x2="48.30" y2="139.00" stroke="#111" stroke-width="1.0"/>
<text x="43.00" y="141.30" font-size="6.4" text-anchor="end" font-weight="normal" font-style="normal" fill="#1a1a1a" font-family="'Liberation Sans', sans-serif" stroke="#1a1a1a" stroke-width="0.18">-5</text>
<line x1="46.10" y1="151.10" x2="48.30" y2="151.10" stroke="#111" stroke-width="1.0"/>
<text x="43.00" y="153.40" font-size="6.4" text-anchor="end" font-weight="normal" font-style="normal" fill="#1a1a1a" font-family="'Liberation Sans', sans-serif" stroke="#1a1a1a" stroke-width="0.18">-6</text>
<line x1="46.10" y1="163.20" x2="48.30" y2="163.20" stroke="#111" stroke-width="1.0"/>
<text x="43.00" y="165.50" font-size="6.4" text-anchor="end" font-weight="normal" font-style="normal" fill="#1a1a1a" font-family="'Liberation Sans', sans-serif" stroke="#1a1a1a" stroke-width="0.18">-7</text>
<line x1="46.10" y1="175.30" x2="48.30" y2="175.30" stroke="#111" stroke-width="1.0"/>
<text x="43.00" y="177.60" font-size="6.4" text-anchor="end" font-weight="normal" font-style="normal" fill="#1a1a1a" font-family="'Liberation Sans', sans-serif" stroke="#1a1a1a" stroke-width="0.18">-8</text>
<line x1="46.10" y1="187.40" x2="48.30" y2="187.40" stroke="#111" stroke-width="1.0"/>
<text x="43.00" y="189.70" font-size="6.4" text-anchor="end" font-weight="normal" font-style="normal" fill="#1a1a1a" font-family="'Liberation Sans', sans-serif" stroke="#1a1a1a" stroke-width="0.18">-9</text>
<text x="0.00" y="0.00" font-size="9.0" text-anchor="middle" font-weight="normal" font-style="normal" fill="#1a1a1a" font-family="'Liberation Sans', sans-serif" stroke="#1a1a1a" stroke-width="0.18" transform="translate(31.00 163.10) rotate(-90) scale(0.795 1)">log[M] GR50</text>
<rect x="60.30" y="139.50" width="3.70" height="8.50" fill="#3e6d5a"/>
<rect x="78.30" y="139.50" width="3.70" height="9.50" fill="#3e6d5a"/>
<rect x="96.30" y="139.50" width="3.70" height="22.50" fill="#3e6d5a"/>
<rect x="104.30" y="139.50" width="3.70" height="40.70" fill="#a5102e"/>
<rect x="109.30" y="139.50" width="3.70" height="25.00" fill="#cbcbcd"/>
<rect x="114.30" y="139.50" width="3.70" height="37.50" fill="#3e6d5a"/>
<rect x="127.30" y="139.50" width="3.70" height="11.30" fill="#cbcbcd"/>
<rect x="132.30" y="139.50" width="3.70" height="35.30" fill="#3e6d5a"/>
<rect x="158.30" y="139.50" width="3.70" height="40.50" fill="#a5102e"/>
<rect x="163.30" y="139.50" width="3.70" height="32.20" fill="#cbcbcd"/>
<rect x="168.30" y="139.50" width="3.70" height="42.80" fill="#3e6d5a"/>
<rect x="176.30" y="139.50" width="3.70" height="19.50" fill="#a5102e"/>
<rect x="181.30" y="139.50" width="3.70" height="14.90" fill="#cbcbcd"/>
<rect x="186.30" y="139.50" width="3.70" height="32.90" fill="#3e6d5a"/>
<rect x="204.30" y="139.50" width="3.70" height="17.20" fill="#3e6d5a"/>
<rect x="212.30" y="139.50" width="3.70" height="6.30" fill="#a5102e"/>
<rect x="222.30" y="139.50" width="3.70" height="18.50" fill="#3e6d5a"/>
<rect x="230.30" y="139.50" width="3.70" height="8.20" fill="#a5102e"/>
<rect x="240.30" y="139.50" width="3.70" height="21.30" fill="#3e6d5a"/>
<rect x="253.50" y="144.60" width="8.20" height="3.00" fill="#930a27"/>
<text x="264.30" y="148.10" font-size="6.2" text-anchor="start" font-weight="normal" font-style="normal" fill="#1a1a1a" font-family="'Liberation Serif', serif" stroke="#1a1a1a" stroke-width="0.18">Duvelisib</text>
<rect x="253.50" y="150.80" width="8.20" height="3.00" fill="#cfcfd2"/>
<text x="264.30" y="154.30" font-size="6.2" text-anchor="start" font-weight="normal" font-style="normal" fill="#1a1a1a" font-family="'Liberation Serif', serif" stroke="#1a1a1a" stroke-width="0.18">Idelalisib</text>
<rect x="253.50" y="157.00" width="8.20" height="3.00" fill="#245840"/>
<text x="264.30" y="160.50" font-size="6.2" text-anchor="start" font-weight="normal" font-style="normal" fill="#1a1a1a" font-family="'Liberation Serif', serif" stroke="#1a1a1a" stroke-width="0.18">Copanlisib</text>
<line x1="48.30" y1="191.60" x2="48.30" y2="232.00" stroke="#111" stroke-width="1.6"/>
<line x1="46.10" y1="192.30" x2="48.30" y2="192.30" stroke="#111" stroke-width="1.0"/>
<text x="43.00" y="194.60" font-size="6.4" text-anchor="end" font-weight="normal" font-style="normal" fill="#1a1a1a" font-family="'Liberation Sans', sans-serif" stroke="#1a1a1a" stroke-width="0.18">1</text>
<line x1="46.10" y1="212.10" x2="48.30" y2="212.10" stroke="#111" stroke-width="1.0"/>
<text x="43.00" y="214.40" font-size="6.4" text-anchor="end" font-weight="normal" font-style="normal" fill="#1a1a1a" font-family="'Liberation Sans', sans-serif" stroke="#1a1a1a" stroke-width="0.18">0</text>
<line x1="46.10" y1="231.50" x2="48.30" y2="231.50" stroke="#111" stroke-width="1.0"/>
<text x="43.00" y="233.80" font-size="6.4" text-anchor="end" font-weight="normal" font-style="normal" fill="#1a1a1a" font-family="'Liberation Sans', sans-serif" stroke="#1a1a1a" stroke-width="0.18">-1</text>
<line x1="48.30" y1="212.20" x2="268.00" y2="212.20" stroke="#111" stroke-width="1.6"/>
<line x1="48.30" y1="231.50" x2="245.50" y2="231.50" stroke="#111" stroke-width="1.6"/>
<rect x="50.30" y="195.60" width="3.70" height="16.60" fill="#a5102e"/>
<rect x="55.30" y="192.30" width="3.70" height="19.90" fill="#cbcbcd"/>
<rect x="60.30" y="209.00" width="3.70" height="3.20" fill="#3e6d5a"/>
<rect x="68.30" y="198.50" width="3.70" height="13.70" fill="#a5102e"/>
<rect x="73.30" y="196.00" width="3.70" height="16.20" fill="#cbcbcd"/>
<rect x="78.30" y="208.00" width="3.70" height="4.20" fill="#3e6d5a"/>
<rect x="86.30" y="197.00" width="3.70" height="15.20" fill="#a5102e"/>
<rect x="91.30" y="197.00" width="3.70" height="15.20" fill="#cbcbcd"/>
<rect x="96.30" y="212.20" width="3.70" height="1.60" fill="#3e6d5a"/>
<rect x="104.30" y="212.20" width="3.70" height="18.00" fill="#a5102e"/>
<rect x="109.30" y="212.20" width="3.70" height="9.00" fill="#cbcbcd"/>
<rect x="114.30" y="212.20" width="3.70" height="12.20" fill="#3e6d5a"/>
<rect x="122.30" y="202.30" width="3.70" height="9.90" fill="#a5102e"/>
<rect x="127.30" y="206.20" width="3.70" height="6.00" fill="#cbcbcd"/>
<rect x="132.30" y="212.20" width="3.70" height="10.30" fill="#3e6d5a"/>
<rect x="140.30" y="204.60" width="3.70" height="7.60" fill="#a5102e"/>
<rect x="145.30" y="194.70" width="3.70" height="17.50" fill="#cbcbcd"/>
<rect x="150.30" y="199.50" width="3.70" height="12.70" fill="#3e6d5a"/>
<rect x="158.30" y="212.20" width="3.70" height="19.00" fill="#a5102e"/>
<rect x="163.30" y="212.20" width="3.70" height="10.80" fill="#cbcbcd"/>
<rect x="168.30" y="212.20" width="3.70" height="12.00" fill="#3e6d5a"/>
<rect x="176.30" y="212.20" width="3.70" height="19.30" fill="#a5102e"/>
<rect x="181.30" y="212.20" width="3.70" height="19.30" fill="#cbcbcd"/>
<rect x="186.30" y="212.20" width="3.70" height="19.30" fill="#3e6d5a"/>
<rect x="194.30" y="195.40" width="3.70" height="16.80" fill="#a5102e"/>
<rect x="199.30" y="195.40" width="3.70" height="16.80" fill="#cbcbcd"/>
<rect x="204.30" y="207.60" width="3.70" height="4.60" fill="#3e6d5a"/>
<rect x="212.30" y="209.90" width="3.70" height="2.30" fill="#a5102e"/>
<rect x="217.30" y="195.40" width="3.70" height="16.80" fill="#cbcbcd"/>
<rect x="222.30" y="210.40" width="3.70" height="1.80" fill="#3e6d5a"/>
<rect x="230.30" y="202.30" width="3.70" height="9.90" fill="#a5102e"/>
<rect x="235.30" y="200.00" width="3.70" height="12.20" fill="#cbcbcd"/>
<rect x="240.30" y="212.20" width="3.70" height="2.30" fill="#3e6d5a"/>
<line x1="57.00" y1="231.50" x2="57.00" y2="235.40" stroke="#111" stroke-width="1.0"/>
<text x="59.40" y="239.20" font-size="6.45" text-anchor="end" font-weight="normal" font-style="normal" fill="#1a1a1a" font-family="'Liberation Sans', sans-serif" stroke="#1a1a1a" stroke-width="0.18" transform="rotate(-90 59.40 239.20)">DL-40</text>
<line x1="75.00" y1="231.50" x2="75.00" y2="235.40" stroke="#111" stroke-width="1.0"/>
<text x="77.40" y="239.20" font-size="6.45" text-anchor="end" font-weight="normal" font-style="normal" fill="#1a1a1a" font-family="'Liberation Sans', sans-serif" stroke="#1a1a1a" stroke-width="0.18" transform="rotate(-90 77.40 239.20)">FE-PD</text>
<line x1="93.00" y1="231.50" x2="93.00" y2="235.40" stroke="#111" stroke-width="1.0"/>
<text x="95.40" y="239.20" font-size="6.45" text-anchor="end" font-weight="normal" font-style="normal" fill="#1a1a1a" font-family="'Liberation Sans', sans-serif" stroke="#1a1a1a" stroke-width="0.18" transform="rotate(-90 95.40 239.20)">MAC-2A</text>
<line x1="111.00" y1="231.50" x2="111.00" y2="235.40" stroke="#111" stroke-width="1.0"/>
<text x="113.40" y="239.20" font-size="6.45" text-anchor="end" font-weight="normal" font-style="normal" fill="#1a1a1a" font-family="'Liberation Sans', sans-serif" stroke="#1a1a1a" stroke-width="0.18" transform="rotate(-90 113.40 239.20)">OCI-Ly13.2</text>
<line x1="129.00" y1="231.50" x2="129.00" y2="235.40" stroke="#111" stroke-width="1.0"/>
<text x="131.40" y="239.20" font-size="6.45" text-anchor="end" font-weight="normal" font-style="normal" fill="#1a1a1a" font-family="'Liberation Sans', sans-serif" stroke="#1a1a1a" stroke-width="0.18" transform="rotate(-90 131.40 239.20)">SMZ1</text>
<line x1="147.00" y1="231.50" x2="147.00" y2="235.40" stroke="#111" stroke-width="1.0"/>
<text x="149.40" y="239.20" font-size="6.45" text-anchor="end" font-weight="normal" font-style="normal" fill="#1a1a1a" font-family="'Liberation Sans', sans-serif" stroke="#1a1a1a" stroke-width="0.18" transform="rotate(-90 149.40 239.20)">OCI-Ly12</text>
<line x1="165.00" y1="231.50" x2="165.00" y2="235.40" stroke="#111" stroke-width="1.0"/>
<text x="167.40" y="239.20" font-size="6.45" text-anchor="end" font-weight="normal" font-style="normal" fill="#1a1a1a" font-family="'Liberation Sans', sans-serif" stroke="#1a1a1a" stroke-width="0.18" transform="rotate(-90 167.40 239.20)">DERL2</text>
<line x1="183.00" y1="231.50" x2="183.00" y2="235.40" stroke="#111" stroke-width="1.0"/>
<text x="185.40" y="239.20" font-size="6.45" text-anchor="end" font-weight="normal" font-style="normal" fill="#1a1a1a" font-family="'Liberation Sans', sans-serif" stroke="#1a1a1a" stroke-width="0.18" transform="rotate(-90 185.40 239.20)">Karpas-384</text>
<line x1="201.00" y1="231.50" x2="201.00" y2="235.40" stroke="#111" stroke-width="1.0"/>
<text x="203.40" y="239.20" font-size="6.45" text-anchor="end" font-weight="normal" font-style="normal" fill="#1a1a1a" font-family="'Liberation Sans', sans-serif" stroke="#1a1a1a" stroke-width="0.18" transform="rotate(-90 203.40 239.20)">NKL</text>
<line x1="219.00" y1="231.50" x2="219.00" y2="235.40" stroke="#111" stroke-width="1.0"/>
<text x="221.40" y="239.20" font-size="6.45" text-anchor="end" font-weight="normal" font-style="normal" fill="#1a1a1a" font-family="'Liberation Sans', sans-serif" stroke="#1a1a1a" stroke-width="0.18" transform="rotate(-90 221.40 239.20)">MTA</text>
<line x1="237.00" y1="231.50" x2="237.00" y2="235.40" stroke="#111" stroke-width="1.0"/>
<text x="239.40" y="239.20" font-size="6.45" text-anchor="end" font-weight="normal" font-style="normal" fill="#1a1a1a" font-family="'Liberation Sans', sans-serif" stroke="#1a1a1a" stroke-width="0.18" transform="rotate(-90 239.40 239.20)">KHYG-1</text>
<text x="0.00" y="0.00" font-size="8.0" text-anchor="middle" font-weight="normal" font-style="normal" fill="#1a1a1a" font-family="'Liberation Sans', sans-serif" stroke="#1a1a1a" stroke-width="0.18" transform="translate(19.30 211.30) rotate(-90) scale(0.810 1)">GRmax</text>
<text x="0" y="0" font-size="7.2" text-anchor="middle" fill="#1a1a1a" stroke="#1a1a1a" stroke-width="0.18" font-family="'Liberation Sans', sans-serif" transform="translate(29.5 211.4) rotate(-90) scale(0.97 1)">at 10<tspan font-size="4.8" dy="-2.9">-5</tspan><tspan dy="2.9"> M</tspan></text>
<text x="254.30" y="207.40" font-size="6.7" text-anchor="start" font-weight="normal" font-style="normal" fill="#1a1a1a" font-family="'Liberation Sans', sans-serif" stroke="#1a1a1a" stroke-width="0.18" transform="rotate(-90 254.30 207.40)">Reduced</text>
<text x="262.60" y="207.40" font-size="6.9" text-anchor="start" font-weight="normal" font-style="normal" fill="#1a1a1a" font-family="'Liberation Sans', sans-serif" stroke="#1a1a1a" stroke-width="0.18" transform="rotate(-90 262.60 207.40)">Growth</text>
<text x="259.30" y="234.30" font-size="6.9" text-anchor="start" font-weight="normal" font-style="italic" fill="#1a1a1a" font-family="'Liberation Sans', sans-serif" stroke="#1a1a1a" stroke-width="0.18" transform="rotate(-90 259.30 234.30)">Killing</text>
<text x="309.20" y="145.20" font-size="11" text-anchor="start" font-weight="bold" font-style="normal" fill="#000" font-family="'Liberation Sans', sans-serif" stroke="#000" stroke-width="0.30">D</text>
<line x1="339.30" y1="150.00" x2="339.30" y2="216.40" stroke="#111" stroke-width="1.6"/>
<line x1="336.00" y1="156.40" x2="339.30" y2="156.40" stroke="#111" stroke-width="1.0"/>
<text x="0.00" y="0.00" font-size="6.7" text-anchor="end" font-weight="normal" font-style="normal" fill="#1a1a1a" font-family="'Liberation Sans', sans-serif" stroke="#1a1a1a" stroke-width="0.18" transform="translate(332.40 158.60) scale(0.880 1)">100</text>
<line x1="336.00" y1="186.10" x2="339.30" y2="186.10" stroke="#111" stroke-width="1.0"/>
<text x="0.00" y="0.00" font-size="6.7" text-anchor="end" font-weight="normal" font-style="normal" fill="#1a1a1a" font-family="'Liberation Sans', sans-serif" stroke="#1a1a1a" stroke-width="0.18" transform="translate(332.40 188.30) scale(0.880 1)">50</text>
<line x1="336.00" y1="215.80" x2="339.30" y2="215.80" stroke="#111" stroke-width="1.0"/>
<text x="0.00" y="0.00" font-size="6.7" text-anchor="end" font-weight="normal" font-style="normal" fill="#1a1a1a" font-family="'Liberation Sans', sans-serif" stroke="#1a1a1a" stroke-width="0.18" transform="translate(332.40 218.00) scale(0.880 1)">0</text>
<text x="0.00" y="0.00" font-size="8.0" text-anchor="middle" font-weight="normal" font-style="normal" fill="#1a1a1a" font-family="'Liberation Sans', sans-serif" stroke="#1a1a1a" stroke-width="0.18" transform="translate(319.30 182.20) rotate(-90) scale(0.810 1)">% cells</text>
<line x1="339.30" y1="215.80" x2="372.70" y2="215.80" stroke="#111" stroke-width="1.6"/>
<text x="355.88" y="145.30" font-size="5.6" text-anchor="middle" font-weight="normal" font-style="normal" fill="#333" font-family="'Liberation Sans', sans-serif" stroke="#333" stroke-width="0.05">OCI-Ly13.2</text>
<rect x="343.75" y="164.50" width="10.00" height="51.30" fill="#c8c8cc"/>
<rect x="343.75" y="160.00" width="10.00" height="4.50" fill="#e6930f"/>
<rect x="343.75" y="155.75" width="10.00" height="4.25" fill="#a10f30"/>
<line x1="345.25" y1="155.95" x2="352.25" y2="155.95" stroke="#5a0618" stroke-width="1.0"/>
<line x1="348.75" y1="215.80" x2="348.75" y2="218.80" stroke="#111" stroke-width="1.0"/>
<text x="351.05" y="226.00" font-size="6.7" text-anchor="end" font-weight="normal" font-style="normal" fill="#1a1a1a" font-family="'Liberation Sans', sans-serif" stroke="#1a1a1a" stroke-width="0.18" transform="rotate(-45 351.05 226.00)">DMSO</text>
<rect x="358.00" y="178.25" width="10.00" height="37.55" fill="#c8c8cc"/>
<rect x="358.00" y="162.50" width="10.00" height="15.75" fill="#e6930f"/>
<rect x="358.00" y="155.75" width="10.00" height="6.75" fill="#a10f30"/>
<line x1="360.50" y1="178.25" x2="365.50" y2="178.25" stroke="#111" stroke-width="1.0"/>
<line x1="359.50" y1="155.95" x2="366.50" y2="155.95" stroke="#5a0618" stroke-width="1.0"/>
<line x1="363.00" y1="215.80" x2="363.00" y2="218.80" stroke="#111" stroke-width="1.0"/>
<text x="365.30" y="226.00" font-size="6.7" text-anchor="end" font-weight="normal" font-style="normal" fill="#1a1a1a" font-family="'Liberation Sans', sans-serif" stroke="#1a1a1a" stroke-width="0.18" transform="rotate(-45 365.30 226.00)">Duv</text>
<line x1="379.50" y1="215.80" x2="413.25" y2="215.80" stroke="#111" stroke-width="1.6"/>
<text x="396.43" y="145.30" font-size="5.6" text-anchor="middle" font-weight="normal" font-style="normal" fill="#333" font-family="'Liberation Sans', sans-serif" stroke="#333" stroke-width="0.05">DERL2</text>
<rect x="384.30" y="171.25" width="10.00" height="44.55" fill="#c8c8cc"/>
<rect x="384.30" y="159.50" width="10.00" height="11.75" fill="#e6930f"/>
<rect x="384.30" y="155.75" width="10.00" height="3.75" fill="#a10f30"/>
<line x1="386.80" y1="171.25" x2="391.80" y2="171.25" stroke="#111" stroke-width="1.0"/>
<line x1="385.80" y1="155.95" x2="392.80" y2="155.95" stroke="#5a0618" stroke-width="1.0"/>
<line x1="389.30" y1="215.80" x2="389.30" y2="218.80" stroke="#111" stroke-width="1.0"/>
<text x="391.60" y="226.00" font-size="6.7" text-anchor="end" font-weight="normal" font-style="normal" fill="#1a1a1a" font-family="'Liberation Sans', sans-serif" stroke="#1a1a1a" stroke-width="0.18" transform="rotate(-45 391.60 226.00)">DMSO</text>
<rect x="398.55" y="198.80" width="10.00" height="17.00" fill="#c8c8cc"/>
<rect x="398.55" y="171.25" width="10.00" height="27.55" fill="#e6930f"/>
<rect x="398.55" y="157.50" width="10.00" height="13.75" fill="#a10f30"/>
<line x1="400.05" y1="157.70" x2="407.05" y2="157.70" stroke="#5a0618" stroke-width="1.0"/>
<line x1="403.55" y1="215.80" x2="403.55" y2="218.80" stroke="#111" stroke-width="1.0"/>
<text x="405.85" y="226.00" font-size="6.7" text-anchor="end" font-weight="normal" font-style="normal" fill="#1a1a1a" font-family="'Liberation Sans', sans-serif" stroke="#1a1a1a" stroke-width="0.18" transform="rotate(-45 405.85 226.00)">Duv</text>
<line x1="419.10" y1="215.80" x2="452.85" y2="215.80" stroke="#111" stroke-width="1.6"/>
<text x="436.02" y="145.30" font-size="5.6" text-anchor="middle" font-weight="normal" font-style="normal" fill="#333" font-family="'Liberation Sans', sans-serif" stroke="#333" stroke-width="0.05">Karpas384</text>
<rect x="423.90" y="172.50" width="10.00" height="43.30" fill="#c8c8cc"/>
<rect x="423.90" y="163.00" width="10.00" height="9.50" fill="#e6930f"/>
<rect x="423.90" y="153.75" width="10.00" height="9.25" fill="#a10f30"/>
<line x1="426.40" y1="172.50" x2="431.40" y2="172.50" stroke="#111" stroke-width="1.0"/>
<line x1="425.40" y1="153.95" x2="432.40" y2="153.95" stroke="#5a0618" stroke-width="1.0"/>
<line x1="428.90" y1="215.80" x2="428.90" y2="218.80" stroke="#111" stroke-width="1.0"/>
<text x="431.20" y="226.00" font-size="6.7" text-anchor="end" font-weight="normal" font-style="normal" fill="#1a1a1a" font-family="'Liberation Sans', sans-serif" stroke="#1a1a1a" stroke-width="0.18" transform="rotate(-45 431.20 226.00)">DMSO</text>
<rect x="438.15" y="189.50" width="10.00" height="26.30" fill="#c8c8cc"/>
<rect x="438.15" y="171.25" width="10.00" height="18.25" fill="#e6930f"/>
<rect x="438.15" y="155.75" width="10.00" height="15.50" fill="#a10f30"/>
<line x1="440.65" y1="189.50" x2="445.65" y2="189.50" stroke="#111" stroke-width="1.0"/>
<line x1="439.65" y1="155.95" x2="446.65" y2="155.95" stroke="#5a0618" stroke-width="1.0"/>
<line x1="443.15" y1="215.80" x2="443.15" y2="218.80" stroke="#111" stroke-width="1.0"/>
<text x="445.45" y="226.00" font-size="6.7" text-anchor="end" font-weight="normal" font-style="normal" fill="#1a1a1a" font-family="'Liberation Sans', sans-serif" stroke="#1a1a1a" stroke-width="0.18" transform="rotate(-45 445.45 226.00)">Duv</text>
<line x1="459.00" y1="215.80" x2="492.75" y2="215.80" stroke="#111" stroke-width="1.6"/>
<text x="475.93" y="145.30" font-size="5.6" text-anchor="middle" font-weight="normal" font-style="normal" fill="#333" font-family="'Liberation Sans', sans-serif" stroke="#333" stroke-width="0.05">SMZ1</text>
<rect x="463.80" y="163.00" width="10.00" height="52.80" fill="#c8c8cc"/>
<rect x="463.80" y="158.70" width="10.00" height="4.30" fill="#e6930f"/>
<rect x="463.80" y="156.00" width="10.00" height="2.70" fill="#a10f30"/>
<line x1="466.30" y1="163.00" x2="471.30" y2="163.00" stroke="#111" stroke-width="1.0"/>
<line x1="465.30" y1="156.20" x2="472.30" y2="156.20" stroke="#5a0618" stroke-width="1.0"/>
<line x1="468.80" y1="215.80" x2="468.80" y2="218.80" stroke="#111" stroke-width="1.0"/>
<text x="471.10" y="226.00" font-size="6.7" text-anchor="end" font-weight="normal" font-style="normal" fill="#1a1a1a" font-family="'Liberation Sans', sans-serif" stroke="#1a1a1a" stroke-width="0.18" transform="rotate(-45 471.10 226.00)">DMSO</text>
<rect x="478.05" y="162.50" width="10.00" height="53.30" fill="#c8c8cc"/>
<rect x="478.05" y="158.50" width="10.00" height="4.00" fill="#e6930f"/>
<rect x="478.05" y="156.00" width="10.00" height="2.50" fill="#a10f30"/>
<line x1="480.55" y1="162.50" x2="485.55" y2="162.50" stroke="#111" stroke-width="1.0"/>
<line x1="479.55" y1="156.20" x2="486.55" y2="156.20" stroke="#5a0618" stroke-width="1.0"/>
<line x1="483.05" y1="215.80" x2="483.05" y2="218.80" stroke="#111" stroke-width="1.0"/>
<text x="485.35" y="226.00" font-size="6.7" text-anchor="end" font-weight="normal" font-style="normal" fill="#1a1a1a" font-family="'Liberation Sans', sans-serif" stroke="#1a1a1a" stroke-width="0.18" transform="rotate(-45 485.35 226.00)">Duv</text>
<rect x="363.60" y="251.90" width="8.40" height="4.00" fill="#a10f30"/>
<text x="0.00" y="0.00" font-size="6.1" text-anchor="start" font-weight="normal" font-style="normal" fill="#1a1a1a" font-family="'Liberation Sans', sans-serif" stroke="#1a1a1a" stroke-width="0.18" transform="translate(376.10 256.00) scale(0.950 1)"><tspan font-style="italic">AnnexinV/7-AAD</tspan> positive</text>
<rect x="363.60" y="259.65" width="8.40" height="4.00" fill="#e6930f"/>
<text x="0.00" y="0.00" font-size="6.1" text-anchor="start" font-weight="normal" font-style="normal" fill="#1a1a1a" font-family="'Liberation Sans', sans-serif" stroke="#1a1a1a" stroke-width="0.18" transform="translate(376.10 263.75) scale(0.950 1)"><tspan font-style="italic">AnnexinV</tspan> positive</text>
<rect x="363.60" y="267.40" width="8.40" height="4.00" fill="#c8c8cc"/>
<text x="0.00" y="0.00" font-size="6.1" text-anchor="start" font-weight="normal" font-style="normal" fill="#1a1a1a" font-family="'Liberation Sans', sans-serif" stroke="#1a1a1a" stroke-width="0.18" transform="translate(376.10 271.50) scale(0.950 1)"><tspan font-style="italic">AnnexinV/7-AAD</tspan> negative</text>
</g>
<rect x="0" y="0" width="520" height="1.1" fill="#000"/>
<rect x="0" y="0" width="1.0" height="280" fill="#000"/>
<rect x="518.7" y="0" width="1.3" height="280" fill="#000"/>
<rect x="0" y="278.5" width="520" height="1.5" fill="#000"/>
</svg>
</body></html>
